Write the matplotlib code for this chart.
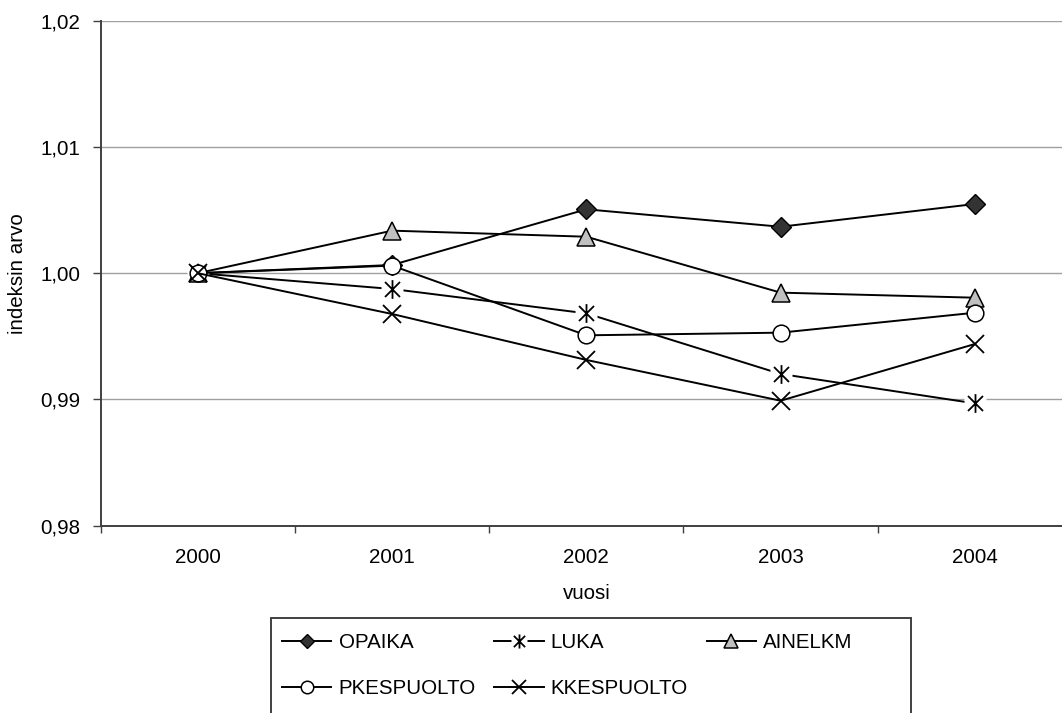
import matplotlib
matplotlib.use("Agg")
import matplotlib.pyplot as plt
from matplotlib.path import Path
from matplotlib.legend_handler import HandlerTuple
from matplotlib.patches import Rectangle

# --- data -------------------------------------------------------------
years = ["2000", "2001", "2002", "2003", "2004"]
opaika = [1.0000, 1.00065, 1.00506, 1.00368, 1.00548]
luka = [1.0000, 0.99875, 0.99682, 0.99202, 0.98969]
ainelkm = [1.0000, 1.00337, 1.00289, 0.99846, 0.99806]
pkespuolto = [1.0000, 1.00060, 0.99508, 0.99529, 0.99687]
kkespuolto = [1.0000, 0.99677, 0.99313, 0.98990, 0.99439]

y_ticks = [0.98, 0.99, 1.00, 1.01, 1.02]
y_tick_labels = ["0,98", "0,99", "1,00", "1,01", "1,02"]
x_label = "vuosi"
y_label = "indeksin arvo"

# --- style ------------------------------------------------------------
plt.rcParams["font.family"] = ["Liberation Sans", "DejaVu Sans"]
FS = 14.8
AXIS_COL = "#404040"
GRID_COL = "#a0a0a0"

W, H = 1062, 713
fig = plt.figure(figsize=(W / 100, H / 100), dpi=100)
# plot area runs slightly past the right edge of the canvas
ax = fig.add_axes([100.7 / W, 1 - 525.7 / H, 971.3 / W, 505.0 / H])

x = list(range(len(years)))

# asterisk marker: an X with a vertical bar
star = Path([(-1, -1), (1, 1), (-1, 1), (1, -1), (0, -1.25), (0, 1.25)],
            [Path.MOVETO, Path.LINETO, Path.MOVETO, Path.LINETO,
             Path.MOVETO, Path.LINETO])

LW = 1.4
h_op, = ax.plot(x, opaika, color="black", lw=LW, marker="D", ms=9.7,
                mfc="#333333", mec="black", mew=1.0)
h_lu, = ax.plot(x, luka, color="black", lw=LW, marker="s", ms=15.5,
                mfc="white", mec="none")
h_lu_star, = ax.plot(x, luka, ls="none", marker=star, ms=13.5,
                     mfc="none", mec="black", mew=1.3)
h_ai, = ax.plot(x, ainelkm, color="black", lw=LW, marker="^", ms=13.3,
                mfc="#c0c0c0", mec="black", mew=1.1)
h_pk, = ax.plot(x, pkespuolto, color="black", lw=LW, marker="o", ms=12,
                mfc="white", mec="black", mew=1.1)
h_kk, = ax.plot(x, kkespuolto, color="black", lw=LW, marker="x", ms=13.5,
                mec="black", mew=1.3)

# --- axes ---------------------------------------------------------------
ax.set_xlim(-0.5, len(years) - 0.5)
ax.set_ylim(y_ticks[0], y_ticks[-1])
ax.set_yticks(y_ticks)
ax.set_yticklabels(y_tick_labels)
ax.set_xticks(x)
ax.set_xticklabels(years)
ax.set_xticks([i - 0.5 for i in range(len(years) + 1)], minor=True)

ax.tick_params(axis="x", which="major", length=0, pad=16, labelsize=FS)
ax.tick_params(axis="x", which="minor", length=5, width=1, color=AXIS_COL,
               direction="out")
ax.tick_params(axis="y", which="major", length=5.5, width=1, color=AXIS_COL,
               direction="out", pad=9, labelsize=FS)

ax.set_axisbelow(True)
ax.yaxis.grid(True, color=GRID_COL, lw=1.0)
for side in ("top", "right"):
    ax.spines[side].set_visible(False)
for side in ("left", "bottom"):
    ax.spines[side].set_color(AXIS_COL)
    ax.spines[side].set_linewidth(1.4)
    ax.spines[side].set_zorder(0.9)

ax.set_xlabel(x_label, fontsize=FS, labelpad=12)
ax.set_ylabel(y_label, fontsize=FS, labelpad=10)

# --- legend -------------------------------------------------------------
handles = [h_op, h_pk, (h_lu, h_lu_star), h_kk, h_ai]
labels = ["OPAIKA", "PKESPUOLTO", "LUKA", "KKESPUOLTO", "AINELKM"]
fig.legend(handles, labels, loc="upper left",
           bbox_to_anchor=(282 / W, 1 - 633 / H), ncol=3, frameon=False,
           borderpad=0, borderaxespad=0, handlelength=2.4,
           handletextpad=0.35, columnspacing=0.9, labelspacing=1.3,
           markerscale=0.75, fontsize=FS,
           handler_map={tuple: HandlerTuple(ndivide=1, pad=0)})

fig.add_artist(Rectangle((270.7 / W, -0.02), (910.7 - 270.7) / W,
                         (713 - 618.3) / H + 0.02, transform=fig.transFigure,
                         fill=False, edgecolor=AXIS_COL, lw=1.4,
                         clip_on=False))

fig.savefig("out.png", dpi=100)
